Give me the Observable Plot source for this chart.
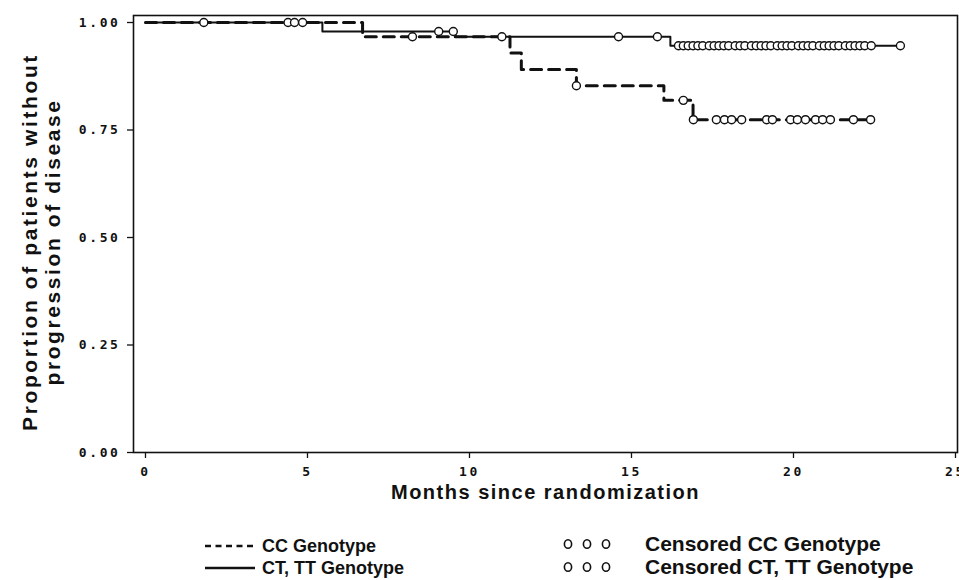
<!DOCTYPE html>
<html><head><meta charset="utf-8">
<script src="https://cdn.jsdelivr.net/npm/d3@7"></script>
<script src="https://cdn.jsdelivr.net/npm/@observablehq/plot@0.6"></script>
<style>
body{margin:0;background:#fff;}
#wrap{position:relative;width:959px;height:580px;overflow:hidden;background:#fff;font-family:"Liberation Sans",Arial,sans-serif;}
#legend{position:absolute;left:0;top:500px;width:959px;height:80px;}
</style></head><body><div id="wrap"><div id="chart"></div><div id="legend"></div></div>
<script>
// ---- data ----
const xTicks = [0, 5, 10, 15, 20, 25];
const yTicks = [0, 0.25, 0.5, 0.75, 1];

// CC genotype (dashed) Kaplan-Meier steps
const ccTimes = [0, 6.7, 11.25, 11.6, 13.3, 16.0, 16.9];
const ccSurv  = [1, 0.967, 0.929, 0.891, 0.853, 0.819, 0.774];
const ccEnd = 22.4;
// CT, TT genotype (solid)
const ctTimes = [0, 5.46, 9.57, 16.2];
const ctSurv  = [1, 0.979, 0.967, 0.946];
const ctEnd = 23.3;

// censoring times
const ccCensored = [4.85, 8.24, 11.0, 13.3, 16.6, 16.91, 17.62, 17.87, 18.09, 18.4, 19.17, 19.35,
  19.91, 20.12, 20.37, 20.68, 20.9, 21.14, 21.85, 22.38];
const ctCensored = [1.8, 4.4, 4.6, 9.05, 9.5, 14.6, 15.8, 16.45, 16.6, 16.75, 16.9, 17.05, 17.2, 17.4,
  17.55, 17.7, 17.85, 18.0, 18.2, 18.35, 18.5, 18.7, 18.85, 19.0, 19.15, 19.3, 19.5, 19.65, 19.8,
  19.95, 20.15, 20.3, 20.45, 20.6, 20.8, 20.95, 21.1, 21.25, 21.4, 21.6, 21.75, 21.9, 22.05, 22.2,
  22.4, 23.3];

const xLabel = "Months since randomization";
const yLabel = "Proportion of patients without\nprogression of disease";
const legendLabels = ["CC Genotype", "CT, TT Genotype", "Censored CC Genotype", "Censored CT, TT Genotype"];

// ---- build tables ----
function stepTable(times, surv, end) {
  const rows = times.map((t, i) => ({t, s: surv[i]}));
  rows.push({t: end, s: surv[surv.length - 1]});
  return rows;
}
function survAt(times, surv, t) {
  let s = surv[0];
  for (let i = 0; i < times.length; i++) if (times[i] <= t) s = surv[i];
  return s;
}
const ccLine = stepTable(ccTimes, ccSurv, ccEnd);
const ctLine = stepTable(ctTimes, ctSurv, ctEnd);
const ccDots = ccCensored.map(t => ({t, s: survAt(ccTimes, ccSurv, t)}));
const ctDots = ctCensored.map(t => ({t, s: survAt(ctTimes, ctSurv, t)}));

const ink = "#111";
const titleFont = "Liberation Sans, Arial, sans-serif";

const chart = Plot.plot({
  width: 959, height: 500,
  marginTop: 15, marginBottom: 48, marginLeft: 133, marginRight: 2,
  style: {background: "white", color: ink, overflow: "visible"},
  x: {domain: [-0.37, 25.062], ticks: xTicks},
  y: {domain: [0, 1.0163], ticks: yTicks},
  marks: [
    Plot.frame({stroke: ink, strokeWidth: 1.6}),
    Plot.axisY({ticks: yTicks, tickSize: 6, tickPadding: 7, tickFormat: d3.format(".2f"), label: null, strokeWidth: 1.3, fontSize: 13}),
    Plot.axisX({ticks: xTicks, tickSize: 6, tickPadding: 8, tickFormat: d3.format("d"), label: null, strokeWidth: 1.3, fontSize: 13}),
    Plot.line(ctLine, {x: "t", y: "s", curve: "step-after", stroke: ink, strokeWidth: 2}),
    Plot.line(ccLine, {x: "t", y: "s", curve: "step-after", stroke: ink, strokeWidth: 3, strokeDasharray: "11,7"}),
    Plot.dot(ctDots, {x: "t", y: "s", r: 4, stroke: ink, fill: "white", strokeWidth: 1.4}),
    Plot.dot(ccDots, {x: "t", y: "s", r: 4, stroke: ink, fill: "white", strokeWidth: 1.4}),
    Plot.text([xLabel], {frameAnchor: "bottom", dy: 32, fontSize: 20, fontWeight: "bold", fontFamily: titleFont, fill: ink, lineAnchor: "top"}),
    Plot.text([yLabel], {frameAnchor: "left", dx: -92, dy: 8, rotate: -90, fontSize: 21, fontWeight: "bold", fontFamily: titleFont, fill: ink, lineHeight: 1.1, lineAnchor: "middle", textAnchor: "middle"})
  ]
});
// scanned-looking fonts: wide bold monospace ticks, spaced titles
const svg = d3.select(chart);
svg.selectAll('[aria-label$="tick label"], [aria-label$="tick label"] text')
  .style("font-family", "'DejaVu Sans Mono', monospace").style("font-weight", "bold").style("font-size", "13px");
svg.selectAll('[aria-label$="tick label"] text').style("letter-spacing", "2.6px");
const titles = svg.selectAll('g[aria-label="text"]').nodes();
d3.select(titles[0]).selectAll("text").style("letter-spacing", "1.5px");
d3.select(titles[1]).selectAll("text").style("letter-spacing", "2.6px");
document.getElementById("chart").appendChild(chart);

// ---- legend below the chart ----
const lg = d3.select("#legend").append("svg").attr("width", 959).attr("height", 80);
const rows = [
  {y: 46, kind: "dash", label: legendLabels[0]},
  {y: 68, kind: "solid", label: legendLabels[1]}
];
rows.forEach(r => {
  lg.append("line").attr("x1", 205).attr("x2", 255).attr("y1", r.y).attr("y2", r.y)
    .attr("stroke", ink).attr("stroke-width", 2.6)
    .attr("stroke-dasharray", r.kind === "dash" ? "6,4.5" : null);
  lg.append("text").attr("x", 262).attr("y", r.y + 6).text(r.label)
    .attr("font-family", titleFont).attr("font-size", 18).attr("font-weight", "bold").attr("fill", ink);
});
[{y: 44, label: legendLabels[2]}, {y: 67, label: legendLabels[3]}].forEach(r => {
  [568, 587, 606].forEach(cx => lg.append("ellipse").attr("cx", cx).attr("cy", r.y).attr("rx", 3.6).attr("ry", 4.3)
    .attr("fill", "white").attr("stroke", ink).attr("stroke-width", 1.6));
  lg.append("text").attr("x", 645).attr("y", r.y + 7).text(r.label)
    .attr("font-family", titleFont).attr("font-size", 21).attr("font-weight", "bold").attr("fill", ink);
});
</script></body></html>
